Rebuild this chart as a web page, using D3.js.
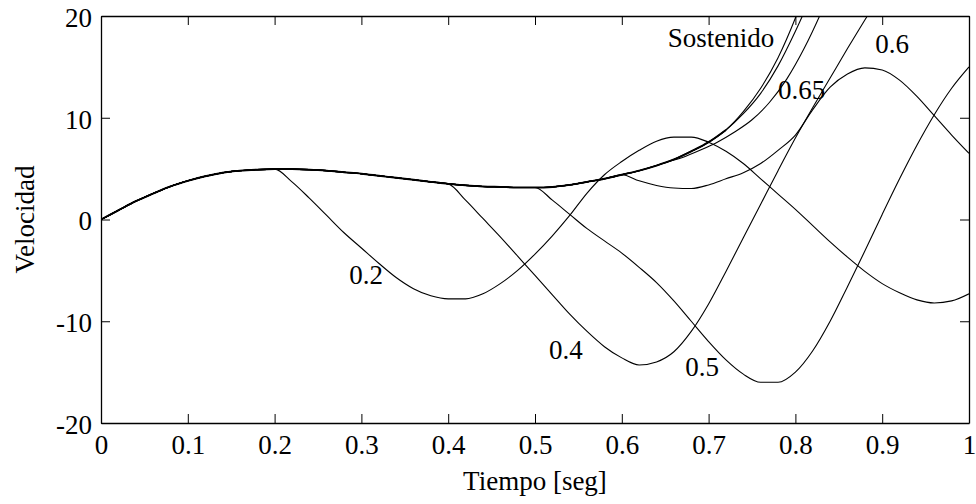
<!DOCTYPE html>
<html>
<head>
<meta charset="utf-8">
<script src="https://cdn.jsdelivr.net/npm/d3@7"></script>
<style>
  body { margin: 0; background: #fff; }
</style>
</head>
<body>
<div id="chart"></div>
<script>
// velocity curves
const sostT = [0, 0.02, 0.04, 0.06, 0.08, 0.10, 0.12, 0.14, 0.16, 0.18, 0.20, 0.22, 0.24, 0.26, 0.28, 0.30,
  0.32, 0.34, 0.36, 0.38, 0.40, 0.42, 0.44, 0.46, 0.48, 0.50, 0.52, 0.54, 0.56, 0.58, 0.60, 0.62, 0.64,
  0.66, 0.68, 0.70, 0.72, 0.74, 0.76, 0.78, 0.80, 0.82];
const sostV = [0, 0.9, 1.8, 2.55, 3.25, 3.8, 4.25, 4.6, 4.8, 4.9, 4.95, 4.95, 4.9, 4.8, 4.65, 4.5,
  4.3, 4.1, 3.9, 3.7, 3.5, 3.35, 3.25, 3.2, 3.15, 3.15, 3.2, 3.4, 3.7, 4.0, 4.4, 4.8, 5.3,
  5.9, 6.7, 7.6, 8.8, 10.6, 12.9, 15.9, 19.8, 24.5];

const t02 = [0.20, 0.22, 0.24, 0.26, 0.28, 0.30, 0.32, 0.34, 0.36, 0.38, 0.40, 0.42, 0.44, 0.46, 0.48, 0.50,
  0.52, 0.54, 0.56, 0.58, 0.60, 0.62, 0.64, 0.66, 0.68, 0.70, 0.72, 0.74, 0.76, 0.78, 0.80, 0.82, 0.84,
  0.86, 0.88, 0.90, 0.92, 0.94, 0.96, 0.98, 1.00];
const v02 = [4.95, 3.7, 2.1, 0.4, -1.3, -2.8, -4.3, -5.7, -6.8, -7.5, -7.8, -7.8, -7.3, -6.3, -5.0, -3.4,
  -1.6, 0.4, 2.6, 4.4, 5.7, 6.8, 7.7, 8.1, 8.1, 7.6, 6.7, 5.5, 4.0, 2.5, 1.0, -0.6, -2.2,
  -3.7, -5.1, -6.3, -7.2, -7.9, -8.2, -8.0, -7.3];

const t04 = [0.40, 0.42, 0.44, 0.46, 0.48, 0.50, 0.52, 0.54, 0.56, 0.58, 0.60, 0.62, 0.64, 0.66, 0.68, 0.70,
  0.72, 0.74, 0.76, 0.78, 0.80, 0.82, 0.84, 0.86, 0.88, 0.90];
const v04 = [3.5, 1.9, 0.1, -1.7, -3.6, -5.5, -7.4, -9.3, -11.0, -12.5, -13.6, -14.3, -14.0, -13.0, -11.0, -8.3,
  -5.1, -1.8, 1.5, 4.8, 8.0, 11.0, 13.9, 16.8, 19.6, 22.4];

const t05 = [0.50, 0.52, 0.54, 0.56, 0.58, 0.60, 0.62, 0.64, 0.66, 0.68, 0.70, 0.72, 0.74, 0.76, 0.78, 0.80,
  0.82, 0.84, 0.86, 0.88, 0.90, 0.92, 0.94, 0.96, 0.98, 1.00];
const v05 = [3.15, 1.9, 0.5, -0.9, -2.1, -3.3, -4.7, -6.2, -8.0, -10.0, -12.0, -13.8, -15.2, -16.0, -16.0, -15.0,
  -12.9, -10.0, -6.6, -3.1, 0.5, 4.0, 7.3, 10.3, 12.9, 15.0];

const t06 = [0.60, 0.62, 0.64, 0.66, 0.68, 0.70, 0.72, 0.74, 0.76, 0.78, 0.80, 0.82, 0.84, 0.86, 0.88, 0.90,
  0.92, 0.94, 0.96, 0.98, 1.00];
const v06 = [4.4, 3.8, 3.35, 3.1, 3.05, 3.4, 4.0, 4.6, 5.5, 6.8, 8.3, 10.8, 13.0, 14.3, 14.9, 14.7,
  13.7, 12.1, 10.2, 8.3, 6.5];

const t065 = [0.65, 0.67, 0.69, 0.71, 0.73, 0.75, 0.77, 0.79, 0.81, 0.83, 0.85];
const v065 = [5.6, 6.1, 6.8, 7.6, 8.6, 9.8, 11.5, 13.8, 16.8, 20.4, 24.5];

// unlabeled curve that leaves the sustained one near t = 0.72
const tExtra = [0.72, 0.74, 0.76, 0.78, 0.80, 0.82];
const vExtra = [8.8, 10.4, 12.4, 15.1, 18.5, 22.3];

const xTicks = [0, 0.1, 0.2, 0.3, 0.4, 0.5, 0.6, 0.7, 0.8, 0.9, 1];
const yTicks = [-20, -10, 0, 10, 20];

// curve labels, in data units
const labels = [
  { text: "Sostenido", t: 0.653, v: 17.0 },
  { text: "0.6", t: 0.892, v: 16.4 },
  { text: "0.65", t: 0.780, v: 11.8 },
  { text: "0.2", t: 0.286, v: -6.3 },
  { text: "0.4", t: 0.516, v: -13.7 },
  { text: "0.5", t: 0.673, v: -15.4 }
];

const w = 976, h = 504;
const plotL = 101, plotR = 969, plotT = 16, plotB = 423;
const serif = "'Liberation Serif', 'Times New Roman', Times, serif";
const fontSize = 27;

const svg = d3.select("#chart").append("svg")
  .attr("width", w)
  .attr("height", h);

svg.append("rect").attr("width", w).attr("height", h).attr("fill", "#fff");

const x = d3.scaleLinear().domain([0, 1]).range([plotL, plotR]);
const y = d3.scaleLinear().domain([-20, 20]).range([plotB, plotT]);

function pts(ts, vs) {
  return ts.map((t, i) => ({ t: t, v: vs[i] }));
}

const sost = pts(sostT, sostV);
// each released curve follows the sustained one until its release time
function branch(ts, vs) {
  return sost.filter(d => d.t < ts[0]).concat(pts(ts, vs));
}

const series = [
  sost,
  branch(t02, v02),
  branch(t04, v04),
  branch(t05, v05),
  branch(t06, v06),
  branch(t065, v065),
  branch(tExtra, vExtra)
];

svg.append("clipPath").attr("id", "plot")
  .append("rect")
  .attr("x", plotL).attr("y", plotT)
  .attr("width", plotR - plotL).attr("height", plotB - plotT);

const line = d3.line()
  .x(d => x(d.t))
  .y(d => y(d.v))
  .curve(d3.curveMonotoneX);

const plot = svg.append("g").attr("clip-path", "url(#plot)");

plot.selectAll("path.curve")
  .data(series)
  .enter()
  .append("path")
  .attr("class", "curve")
  .attr("d", line)
  .attr("fill", "none")
  .attr("stroke", "#000")
  .attr("stroke-width", 1.1);

// the stretch shared by several curves prints heavier
plot.append("path")
  .datum(sost.filter(d => d.t <= tExtra[0]))
  .attr("d", line)
  .attr("fill", "none")
  .attr("stroke", "#000")
  .attr("stroke-width", 1.9);

// axes: box with inward ticks
const fmt = d => String(d);

const gx = svg.append("g")
  .attr("transform", `translate(0,${plotB})`)
  .call(d3.axisBottom(x).tickValues(xTicks).tickFormat(fmt).tickSizeInner(-9).tickSizeOuter(0).tickPadding(12));
const gy = svg.append("g")
  .attr("transform", `translate(${plotL},0)`)
  .call(d3.axisLeft(y).tickValues(yTicks).tickFormat(fmt).tickSizeInner(-9).tickSizeOuter(0).tickPadding(9));
const gt = svg.append("g")
  .attr("transform", `translate(0,${plotT})`)
  .call(d3.axisTop(x).tickValues(xTicks).tickFormat("").tickSizeInner(-9).tickSizeOuter(0));
const gr = svg.append("g")
  .attr("transform", `translate(${plotR},0)`)
  .call(d3.axisRight(y).tickValues(yTicks).tickFormat("").tickSizeInner(-9).tickSizeOuter(0));

[gx, gy, gt, gr].forEach(g => {
  g.attr("font-family", serif).attr("font-size", fontSize);
  g.selectAll("path.domain").attr("stroke", "#000").attr("stroke-width", 1.3);
  g.selectAll(".tick line").attr("stroke", "#000").attr("stroke-width", 1);
  g.selectAll("text")
    .attr("fill", "#000")
    .attr("font-family", serif)
    .attr("font-size", fontSize + "px");
});
gy.selectAll("text").attr("dy", "0.38em");

svg.append("text")
  .attr("x", (plotL + plotR) / 2)
  .attr("y", 490)
  .attr("text-anchor", "middle")
  .attr("font-family", serif)
  .attr("font-size", fontSize + "px")
  .text("Tiempo [seg]");

svg.append("text")
  .attr("transform", `translate(34,${(plotT + plotB) / 2}) rotate(-90)`)
  .attr("text-anchor", "middle")
  .attr("font-family", serif)
  .attr("font-size", fontSize + "px")
  .text("Velocidad");

svg.selectAll("text.label")
  .data(labels)
  .enter()
  .append("text")
  .attr("class", "label")
  .attr("x", d => x(d.t))
  .attr("y", d => y(d.v))
  .attr("font-family", serif)
  .attr("font-size", fontSize + "px")
  .text(d => d.text);
</script>
</body>
</html>
